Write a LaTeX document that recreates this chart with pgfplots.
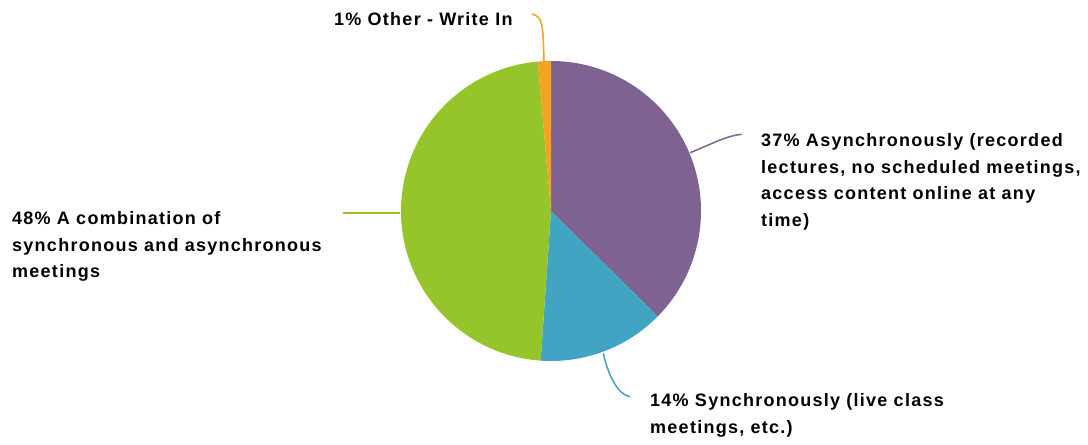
\documentclass[border=0pt]{standalone}
\usepackage{fontspec}
\setmainfont{Liberation Sans}[LetterSpace=7]
\usepackage{pgfplots}
\usepackage{pgfplotstable}
\pgfplotsset{compat=1.18}
\definecolor{cpurple}{HTML}{7E6291}
\definecolor{cblue}{HTML}{41A4C3}
\definecolor{cgreen}{HTML}{95C52B}
\definecolor{corange}{HTML}{F5A21F}
\newcommand\lbl{\fontsize{18bp}{26bp}\selectfont\bfseries}
\pgfplotstableread{
share
37.4
13.7
47.5
1.4
}\piedata
\begin{document}%
\begin{tikzpicture}
\pgfplotstablegetelem{0}{share}\of\piedata \let\sA\pgfplotsretval
\pgfplotstablegetelem{1}{share}\of\piedata \let\sB\pgfplotsretval
\pgfplotstablegetelem{2}{share}\of\piedata \let\sC\pgfplotsretval
\pgfplotstablegetelem{3}{share}\of\piedata \let\sD\pgfplotsretval
\pgfmathsetmacro\aA{90}
\pgfmathsetmacro\aB{\aA-3.6*\sA}
\pgfmathsetmacro\aC{\aB-3.6*\sB}
\pgfmathsetmacro\aD{\aC-3.6*\sC}
\pgfmathsetmacro\aE{\aD-3.6*\sD}
\begin{axis}[hide axis, scale only axis, width=1088bp, height=445bp,
  xmin=0, xmax=1088, ymin=0, ymax=445, clip=false]
\path (axis cs:0,0) rectangle (axis cs:1088,445);
\fill[cpurple] (axis cs:551,234) -- ++(\aA:150bp) arc[start angle=\aA, end angle=\aB, radius=150bp] -- cycle;
\fill[cblue] (axis cs:551,234) -- ++(\aB:150bp) arc[start angle=\aB, end angle=\aC, radius=150bp] -- cycle;
\fill[cgreen] (axis cs:551,234) -- ++(\aC:150bp) arc[start angle=\aC, end angle=\aD, radius=150bp] -- cycle;
\fill[corange] (axis cs:551,234) -- ++(\aD:150bp) arc[start angle=\aD, end angle=\aE, radius=150bp] -- cycle;
% leader lines
\draw[corange, line width=1.5bp] (axis cs:544,384) .. controls (axis cs:543,420) and (axis cs:543,428) .. (axis cs:532,431);
\draw[cpurple, line width=1.5bp] (axis cs:690,292.3) .. controls (axis cs:710,300) and (axis cs:725,309) .. (axis cs:741.7,310.7);
\draw[cblue, line width=1.5bp] (axis cs:603.3,91.7) .. controls (axis cs:608,70) and (axis cs:618,50) .. (axis cs:630,48.3);
\draw[cgreen, line width=1.8bp] (axis cs:343,232) -- (axis cs:400,232);
% labels
\node[anchor=base west, inner sep=0, font=\lbl] at (axis cs:761,298) {37\% Asynchronously (recorded};
\node[anchor=base west, inner sep=0, font=\lbl] at (axis cs:761,271.5) {lectures, no scheduled meetings,};
\node[anchor=base west, inner sep=0, font=\lbl] at (axis cs:761,245) {access content online at any};
\node[anchor=base west, inner sep=0, font=\lbl] at (axis cs:761,218.5) {time)};
\node[anchor=base west, inner sep=0, font=\lbl] at (axis cs:12,220) {48\% A combination of};
\node[anchor=base west, inner sep=0, font=\lbl] at (axis cs:12,193.5) {synchronous and asynchronous};
\node[anchor=base west, inner sep=0, font=\lbl] at (axis cs:12,167) {meetings};
\node[anchor=base west, inner sep=0, font=\lbl] at (axis cs:650,38.3) {14\% Synchronously (live class};
\node[anchor=base west, inner sep=0, font=\lbl] at (axis cs:650,12) {meetings, etc.)};
\node[anchor=base west, inner sep=0, font=\lbl] at (axis cs:334,419) {1\% Other - Write In};
\end{axis}
\end{tikzpicture}%
\end{document}
